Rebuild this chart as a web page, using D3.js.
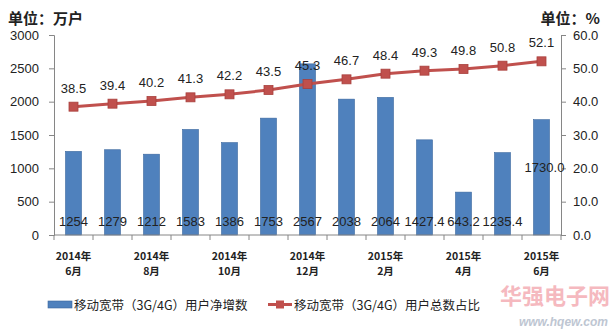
<!DOCTYPE html>
<html><head><meta charset="utf-8">
<script src="https://cdn.jsdelivr.net/npm/d3@7"></script>
<style>body{margin:0;background:#fff}svg{display:block}</style>
</head><body><svg id="c" width="612" height="333"></svg>
<script>
const categories = ["2014年6月","2014年7月","2014年8月","2014年9月","2014年10月","2014年11月","2014年12月","2015年1月","2015年2月","2015年3月","2015年4月","2015年5月","2015年6月"];
const tickLabels = [["2014年","6月"],null,["2014年","8月"],null,["2014年","10月"],null,["2014年","12月"],null,["2015年","2月"],null,["2015年","4月"],null,["2015年","6月"]];
const netAdds = [1254,1279,1212,1583,1386,1753,2567,2038,2064,1427.4,643.2,1235.4,1730.0];
const netAddLabels = ["1254","1279","1212","1583","1386","1753","2567","2038","2064","1427.4","643.2","1235.4","1730.0"];
const share = [38.5,39.4,40.2,41.3,42.2,43.5,45.3,46.7,48.4,49.3,49.8,50.8,52.1];
const leftTicks = [0,500,1000,1500,2000,2500,3000];
const rightTicks = [0,10,20,30,40,50,60];
const seriesNames = ["移动宽带（3G/4G）用户净增数","移动宽带（3G/4G）用户总数占比"];

const svg = d3.select("#c");
const L = 54, R = 561, T = 35, B = 235;
const font = "'Noto Sans CJK SC','Liberation Sans',sans-serif";
const x = d3.scaleBand().domain(categories).range([L, R]).paddingInner(0.59).paddingOuter(0.295);
const y1 = d3.scaleLinear().domain([0,3000]).range([B, T]);
const y2 = d3.scaleLinear().domain([0,60]).range([B, T]);
const axisCol = "#868686";

// bars
svg.append("g").selectAll("rect").data(netAdds).join("rect")
  .attr("x",(d,i)=>x(categories[i])).attr("width",x.bandwidth())
  .attr("y",d=>y1(d)).attr("height",d=>B-y1(d))
  .attr("fill","#4F81BD").attr("stroke","#3A679E").attr("stroke-width",0.6);

// left axis
const gl = svg.append("g").attr("transform",`translate(${L},0)`)
  .call(d3.axisLeft(y1).tickValues(leftTicks).tickSize(5).tickPadding(10).tickFormat(d3.format("d")));
gl.select(".domain").attr("stroke",axisCol);
gl.selectAll(".tick line").attr("stroke",axisCol);
gl.selectAll("text").attr("font-family","'Liberation Sans',sans-serif").attr("font-size",13).attr("fill","#222");

// right axis
const gr = svg.append("g").attr("transform",`translate(${R},0)`)
  .call(d3.axisRight(y2).tickValues(rightTicks).tickSize(5).tickPadding(7).tickFormat(d3.format(".1f")));
gr.select(".domain").attr("stroke",axisCol);
gr.selectAll(".tick line").attr("stroke",axisCol);
gr.selectAll("text").attr("font-family","'Liberation Sans',sans-serif").attr("font-size",13).attr("fill","#222");

// x axis
const step = x.step();
svg.append("line").attr("x1",L).attr("x2",R).attr("y1",B).attr("y2",B).attr("stroke",axisCol);
const xb = d3.range(categories.length+1).map(i=>L+i*step);
svg.append("g").selectAll("line").data(xb).join("line")
  .attr("x1",d=>d).attr("x2",d=>d).attr("y1",B).attr("y2",B+5).attr("stroke",axisCol);
const labData = categories.map((c,i)=>({c,i,l:tickLabels[i]})).filter(d=>d.l);
[0,1].forEach(k=>{
  svg.append("g").selectAll("text").data(labData).join("text")
    .attr("x",d=>x(d.c)+x.bandwidth()/2).attr("y",259.5 + k*15.5)
    .attr("text-anchor","middle").attr("font-family",font).attr("font-size",10.5).attr("font-weight","bold").attr("fill","#222")
    .text(d=>d.l[k]);
});

// bar labels
svg.append("g").selectAll("text").data(netAddLabels).join("text")
  .attr("x",(d,i)=>x(categories[i])+x.bandwidth()/2 + (i===categories.length-1?3:0))
  .attr("y",(d,i)=>i===categories.length-1?172:226)
  .attr("text-anchor","middle").attr("font-family","'Liberation Sans',sans-serif").attr("font-size",13).attr("fill","#222")
  .text(d=>d);

// line
const cx = (d,i)=>x(categories[i])+x.bandwidth()/2;
svg.append("path").datum(share)
  .attr("d",d3.line().x(cx).y(d=>y2(d)))
  .attr("fill","none").attr("stroke","#C0504D").attr("stroke-width",3);
svg.append("g").selectAll("rect").data(share).join("rect")
  .attr("x",(d,i)=>cx(d,i)-4.5).attr("y",d=>y2(d)-4.5).attr("width",9).attr("height",9)
  .attr("fill","#C0504D").attr("stroke","#A9403D").attr("stroke-width",0.8);
svg.append("g").selectAll("text").data(share).join("text")
  .attr("x",cx).attr("y",d=>y2(d)-14)
  .attr("text-anchor","middle").attr("font-family","'Liberation Sans',sans-serif").attr("font-size",13).attr("fill","#222")
  .text(d=>d3.format(".1f")(d));

// unit titles
svg.append("text").attr("x",8).attr("y",24).attr("font-family",font).attr("font-size",15).attr("font-weight","bold").attr("fill","#222").text("单位：万户");
svg.append("text").attr("x",600).attr("y",24).attr("text-anchor","end").attr("font-family",font).attr("font-size",15).attr("font-weight","bold").attr("fill","#222").text("单位：%");

// legend
const lg = svg.append("g");
lg.append("rect").attr("x",48).attr("y",301).attr("width",24).attr("height",7).attr("fill","#4F81BD").attr("stroke","#3A679E").attr("stroke-width",0.6);
lg.append("text").attr("x",74).attr("y",309.5).attr("font-family",font).attr("font-size",12.5).attr("fill","#222").text(seriesNames[0]);
lg.append("line").attr("x1",268).attr("x2",292).attr("y1",304.5).attr("y2",304.5).attr("stroke","#C0504D").attr("stroke-width",3);
lg.append("rect").attr("x",276).attr("y",300.5).attr("width",8).attr("height",8).attr("fill","#C0504D");
lg.append("text").attr("x",294).attr("y",309.5).attr("font-family",font).attr("font-size",12.5).attr("fill","#222").text(seriesNames[1]);

// watermark
svg.append("text").attr("x",610).attr("y",304).attr("text-anchor","end").attr("font-family",font).attr("font-size",22).attr("font-weight","bold").attr("fill","#F08C96").attr("opacity",0.6).text("华强电子网");
svg.append("text").attr("x",608).attr("y",326).attr("text-anchor","end").attr("font-family","'Liberation Sans',sans-serif").attr("font-size",12).attr("font-weight","bold").attr("font-style","italic").attr("fill","#AEB8C8").attr("opacity",0.8).text("www.hqew.com");
</script></body></html>
